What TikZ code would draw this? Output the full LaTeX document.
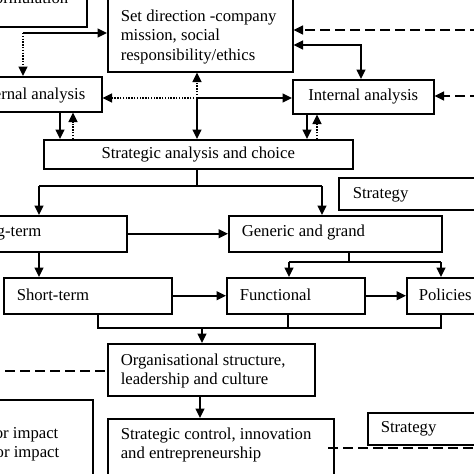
\documentclass[tikz,border=0pt]{standalone}
\usepackage{fontspec}
\setmainfont{Liberation Serif}
\usetikzlibrary{arrows.meta}
\newcommand\diagfont{\fontsize{16.7}{19.5}\selectfont}
\begin{document}
\begin{tikzpicture}[x=1pt,y=-1pt,line width=1.5pt,
  box/.style={draw,line width=1.5pt,inner sep=0pt,anchor=north west},
  txt/.style={inner sep=0pt,align=left,font=\diagfont},
  arr/.style={-{Triangle[length=9.5pt,width=9pt]}},
  darr/.style={{Triangle[length=9.5pt,width=9pt]}-{Triangle[length=9.5pt,width=9pt]}},
  dotl/.style={dash pattern=on 1.4pt off 1.4pt},
  dashl/.style={dash pattern=on 10pt off 5pt}]
\useasboundingbox (0,0) rectangle (474,474);
\clip (0,0) rectangle (474,474);
% boxes
\node[box,minimum width=186pt,minimum height=66pt] (form) at (-100,-40) {};
\node[box,minimum width=185pt,minimum height=91pt] (setdir) at (107,-20) {};
\node[box,minimum width=145pt,minimum height=35pt] (ext) at (-44,76) {};
\node[box,minimum width=141pt,minimum height=34pt,font=\diagfont] (int) at (292,79) {Internal analysis};
\node[box,minimum width=309pt,minimum height=29pt,font=\diagfont] (sac) at (43,139) {Strategic analysis and choice};
\node[box,minimum width=202pt,minimum height=32pt] (strat1) at (338,177) {};
\node[box,minimum width=168pt,minimum height=36pt] (long) at (-42,215) {};
\node[box,minimum width=213pt,minimum height=36pt] (gen) at (228,215) {};
\node[box,minimum width=168pt,minimum height=36pt] (short) at (3,277) {};
\node[box,minimum width=138pt,minimum height=36pt] (func) at (226,277) {};
\node[box,minimum width=134pt,minimum height=36pt] (pol) at (406,277) {};
\node[box,minimum width=207pt,minimum height=52pt] (org) at (107,343) {};
\node[box,minimum width=135pt,minimum height=121pt] (impact) at (-43,399) {};
\node[box,minimum width=226pt,minimum height=102pt] (ctrl) at (107,418) {};
\node[box,minimum width=173pt,minimum height=32pt] (strat2) at (367,412) {};
% texts
\node[txt,anchor=east] (formt) at (69,-1) {Strategy formulation};
\node[txt,anchor=west] (setdirt) at (120,36.6) {Set direction -company\\mission, social\\responsibility/ethics};
\node[txt,anchor=east] (extt) at (86,96) {External analysis};
\node[txt,anchor=west] (strat1t) at (352,195) {Strategy};
\node[txt,anchor=east] (longt) at (42,233) {Long-term};
\node[txt,anchor=west] (gent) at (241,233) {Generic and grand};
\node[txt,anchor=west] (shortt) at (16,295) {Short-term};
\node[txt,anchor=west] (funct) at (239,295) {Functional};
\node[txt,anchor=west] (polt) at (418,295) {Policies};
\node[txt,anchor=west] (orgt) at (120,371) {Organisational structure,\\leadership and culture};
\node[txt,anchor=east] (impactt) at (60,444) {Major impact\\Minor impact};
\node[txt,anchor=west] (ctrlt) at (120,445) {Strategic control, innovation\\and entrepreneurship};
\node[txt,anchor=west] (strat2t) at (380,429) {Strategy};
% junction coordinates
\coordinate (j1) at (23,33);
\coordinate (rd1) at (480,30);
\coordinate (rd2) at (480,96);
\coordinate (j2) at (361,45);
\coordinate (c) at (197,98);
\coordinate (s1) at (197,186);
\coordinate (g1) at (349,262);
\coordinate (b1) at (202,328);
\coordinate (ld) at (-10,371);
\coordinate (cd) at (328,448);
\coordinate (rd3) at (480,448);
% top connectors
\draw[arr] (j1) -- (setdir.west |- j1);
\draw[arr,dotl] (j1) -- (j1 |- ext.north);
\draw[arr,dashl] (rd1) -- (setdir.east |- rd1);
\draw[darr] (setdir.east |- j2) -- (j2) -- (j2 |- int.north);
\draw[arr,dashl] (rd2) -- (int.east |- rd2);
\draw[arr,dotl] (c) -- (c |- setdir.south);
\draw[arr] (c) -- (c |- sac.north);
\draw[arr,dotl] (c) -- (ext.east |- c);
\draw[arr] (c) -- (int.west |- c);
\draw[arr] (ext.south -| 60,0) -- (sac.north -| 60,0);
\draw[arr,dotl] (sac.north -| 73,0) -- (ext.south -| 73,0);
\draw[arr] (int.south -| 307,0) -- (sac.north -| 307,0);
\draw[arr,dotl] (sac.north -| 317,0) -- (int.south -| 317,0);
% middle
\draw (sac.south -| s1) -- (s1);
\draw[arr] (s1 -| 39,0) -- (long.north -| 39,0);
\draw[arr] (s1 -| 322,0) -- (gen.north -| 322,0);
\draw (s1 -| 39,0) -- (s1 -| 322,0);
\draw[arr] (long.east) -- (gen.west);
\draw[arr] (long.south -| 39,0) -- (short.north -| 39,0);
\draw (gen.south -| g1) -- (g1);
\draw (g1 -| 289,0) -- (g1 -| 441,0);
\draw[arr] (g1 -| 289,0) -- (func.north -| 289,0);
\draw[arr] (g1 -| 441,0) -- (pol.north -| 441,0);
\draw[arr] (short.east) -- (func.west);
\draw[arr] (func.east) -- (pol.west);
% bottom
\draw (short.south -| 98,0) -- (b1 -| 98,0) -- (b1 -| 441,0) -- (pol.south -| 441,0);
\draw (func.south -| 288,0) -- (b1 -| 288,0);
\draw[arr] (b1) -- (org.north -| b1);
\draw[dashl] (ld) -- (org.west |- ld);
\draw[arr] (org.south -| 200,0) -- (ctrl.north -| 200,0);
\draw[dashl] (cd) -- (rd3);
\end{tikzpicture}
\end{document}
